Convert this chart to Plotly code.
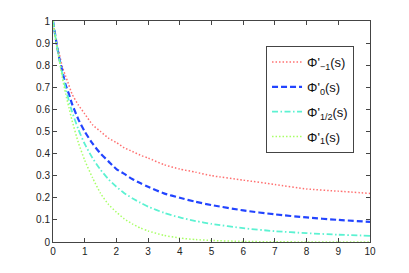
import plotly.graph_objects as go

s_vals = [0, 0.1, 0.2, 0.3, 0.4, 0.5, 0.6, 0.8, 1, 1.25, 1.5, 1.75, 2, 2.25, 2.5, 2.75, 3, 3.5, 4, 4.5, 5, 6, 7, 8, 9, 10]
phi_m1 = [1, 0.91, 0.85, 0.79, 0.75, 0.71, 0.67, 0.62, 0.58, 0.53, 0.50, 0.47, 0.45, 0.426, 0.41, 0.393, 0.38, 0.35, 0.33, 0.316, 0.30, 0.28, 0.26, 0.24, 0.23, 0.22]
phi_0 = [1, 0.91, 0.83, 0.77, 0.71, 0.67, 0.625, 0.555, 0.50, 0.445, 0.40, 0.365, 0.33, 0.308, 0.285, 0.267, 0.25, 0.22, 0.20, 0.182, 0.167, 0.143, 0.125, 0.111, 0.10, 0.091]
phi_half = [1, 0.907, 0.826, 0.756, 0.694, 0.64, 0.59, 0.51, 0.444, 0.379, 0.327, 0.284, 0.25, 0.221, 0.198, 0.178, 0.16, 0.132, 0.111, 0.095, 0.082, 0.0625, 0.049, 0.04, 0.033, 0.028]
phi_1 = [1, 0.905, 0.82, 0.74, 0.67, 0.61, 0.55, 0.45, 0.37, 0.29, 0.22, 0.17, 0.135, 0.105, 0.082, 0.064, 0.05, 0.03, 0.018, 0.011, 0.007, 0.0025, 0.001, 0.0003, 0.0001, 0.0]

x_ticks = list(range(0, 11))
y_ticks = [0, 0.1, 0.2, 0.3, 0.4, 0.5, 0.6, 0.7, 0.8, 0.9, 1]
y_tick_text = ["0", "0.1", "0.2", "0.3", "0.4", "0.5", "0.6", "0.7", "0.8", "0.9", "1"]

names = ["Φ'<sub>−1</sub>(s)", "Φ'<sub>0</sub>(s)", "Φ'<sub>1/2</sub>(s)", "Φ'<sub>1</sub>(s)"]
series = [phi_m1, phi_0, phi_half, phi_1]
colors = ["#ff7070", "#2244ff", "#5cf2d2", "#a8ff66"]
dashes = ["1.5px,2px", "6px,3px", "6px,2.5px,1.5px,2.5px", "1.5px,2px"]
widths = [1.5, 2.2, 1.8, 1.5]

fig = go.Figure()
for i, (name, ys, c, d, w) in enumerate(zip(names, series, colors, dashes, widths)):
    fig.add_trace(go.Scatter(x=s_vals, y=ys, mode="lines", name=name, legendgroup=f"g{i}",
                             line=dict(color=c, dash=d, width=w, shape="spline", smoothing=0.6)))

axis_common = dict(showgrid=False, zeroline=False, showline=True, linecolor="#444444",
                   linewidth=1, mirror="ticks", ticks="inside", ticklen=4,
                   tickcolor="#444444", tickfont=dict(size=10, color="#222222"))

fig.update_xaxes(range=[0, 10], tickvals=x_ticks, **axis_common)
fig.update_yaxes(range=[0, 1], tickvals=y_ticks, ticktext=y_tick_text, **axis_common)

fig.update_layout(
    width=409, height=273,
    margin=dict(l=53, r=39, t=21, b=31),
    plot_bgcolor="white", paper_bgcolor="white",
    font=dict(family="Liberation Sans, Arial, sans-serif"),
    legend=dict(x=0.672, y=0.887, xanchor="left", yanchor="top",
                bgcolor="white", bordercolor="#444444", borderwidth=1,
                font=dict(size=13, color="#111111"), itemwidth=30,
                tracegroupgap=5),
    showlegend=True,
)

fig.write_html("out.html", config={"displayModeBar": False},
               post_script="document.body.style.margin='0';")
